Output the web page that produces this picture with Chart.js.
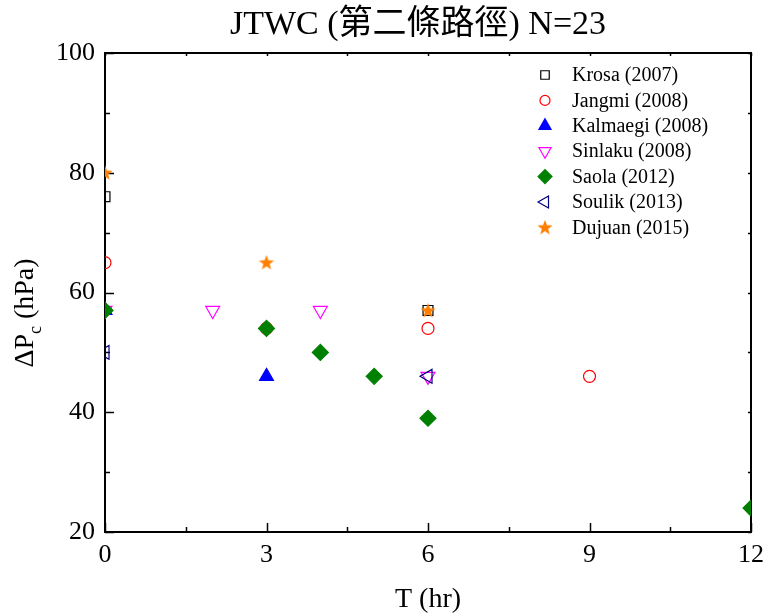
<!DOCTYPE html>
<html lang="zh-Hant">
<head>
<meta charset="UTF-8">
<title>JTWC N=23</title>
<script src="https://cdn.jsdelivr.net/npm/chart.js@4/dist/chart.umd.min.js"></script>
<style>
  body{margin:0;background:#fff;}
</style>
</head>
<body>
<canvas id="c" width="765" height="616"></canvas>
<script>
// data: T (hr) vs ΔPc (hPa)
const krosaT = [0, 6];            const krosaP = [76, 57];
const jangmiT = [0, 3, 6, 9];     const jangmiP = [65, 54, 54, 46];
const kalmaegiT = [0, 3];         const kalmaegiP = [57, 46];
const sinlakuT = [0, 2, 4, 6];    const sinlakuP = [57, 57, 57, 46];
const saolaT = [0, 3, 4, 5, 6, 12]; const saolaP = [57, 54, 50, 46, 39, 24];
const soulikT = [0, 6];           const soulikP = [50, 46];
const dujuanT = [0, 3, 6];        const dujuanP = [80, 65, 57];

const labels = ['Krosa (2007)', 'Jangmi (2008)', 'Kalmaegi (2008)', 'Sinlaku (2008)',
                'Saola (2012)', 'Soulik (2013)', 'Dujuan (2015)'];
const xTicks = [0, 3, 6, 9, 12];
const yTicks = [20, 40, 60, 80, 100];

const serif = '"Liberation Serif", "Noto Sans CJK TC", serif';

// filled five point star for Dujuan
const star = document.createElement('canvas');
star.width = 18; star.height = 18;
(function(){
  const s = star.getContext('2d');
  s.beginPath();
  for (let i = 0; i < 10; i++) {
    const r = i % 2 ? 3.3 : 8;
    const a = -Math.PI / 2 + i * Math.PI / 5;
    s.lineTo(9 + r * Math.cos(a), 9.5 + r * Math.sin(a));
  }
  s.closePath();
  s.fillStyle = '#ff8000';
  s.fill();
})();

const toPts = (t, p) => t.map((v, i) => ({x: v, y: p[i]}));

const sets = [
  {t: krosaT, p: krosaP, style: 'rect', rot: 0, r: 7, stroke: '#000000', fill: 'transparent'},
  {t: jangmiT, p: jangmiP, style: 'circle', rot: 0, r: 6, stroke: '#ff0000', fill: 'transparent'},
  {t: kalmaegiT, p: kalmaegiP, style: 'triangle', rot: 0, r: 8, stroke: '#0000ff', fill: '#0000ff'},
  {t: sinlakuT, p: sinlakuP, style: 'triangle', rot: 180, r: 8, stroke: '#ff00ff', fill: 'transparent'},
  {t: saolaT, p: saolaP, style: 'rectRot', rot: 0, r: 8, stroke: '#008000', fill: '#008000'},
  {t: soulikT, p: soulikP, style: 'triangle', rot: -90, r: 8, stroke: '#000080', fill: 'transparent'},
  {t: dujuanT, p: dujuanP, style: star, rot: 0, r: 8, stroke: '#ff8000', fill: '#ff8000'}
];

const datasets = sets.map((s, i) => ({
  label: labels[i],
  data: toPts(s.t, s.p),
  pointStyle: s.style,
  rotation: s.rot,
  pointRadius: s.r,
  pointHoverRadius: s.r,
  borderColor: s.stroke,
  backgroundColor: s.fill,
  borderWidth: 1.2,
  showLine: false,
  clip: 0,
  order: sets.length - i
}));

// frame, inward ticks, title, y label with subscript, legend
const decor = {
  id: 'decor',
  beforeDatasetsDraw(chart) {
    const ctx = chart.ctx, a = chart.chartArea;
    const xs = chart.scales.x, ys = chart.scales.y;
    ctx.save();
    ctx.strokeStyle = '#000';
    ctx.lineWidth = 1.5;
    for (let v = 0; v <= 12; v += 1.5) {
      const px = Math.round(xs.getPixelForValue(v)) + 0.5;
      const major = v % 3 === 0;
      ctx.beginPath();
      ctx.moveTo(px, a.bottom); ctx.lineTo(px, a.bottom - (major ? 9 : 5));
      ctx.moveTo(px, a.top); ctx.lineTo(px, a.top + 3);
      ctx.stroke();
    }
    for (let v = 20; v <= 100; v += 10) {
      const py = Math.round(ys.getPixelForValue(v)) + 0.5;
      const major = v % 20 === 0;
      ctx.beginPath();
      ctx.moveTo(a.left, py); ctx.lineTo(a.left + (major ? 9 : 5), py);
      ctx.moveTo(a.right, py); ctx.lineTo(a.right - 3, py);
      ctx.stroke();
    }
    ctx.lineWidth = 2;
    ctx.strokeRect(a.left, a.top, a.right - a.left, a.bottom - a.top);
    ctx.restore();
  },
  afterDraw(chart) {
    const ctx = chart.ctx;
    ctx.save();
    ctx.fillStyle = '#000';
    ctx.textBaseline = 'middle';
    ctx.textAlign = 'center';
    ctx.font = '34px ' + serif;
    ctx.fillText('JTWC (第二條路徑) N=23', 418, 25);

    // y axis title: ΔPc (hPa)
    ctx.save();
    ctx.translate(26, 313);
    ctx.rotate(-Math.PI / 2);
    ctx.textAlign = 'left';
    ctx.font = '28px ' + serif;
    const w1 = ctx.measureText('ΔP').width;
    const w3 = ctx.measureText(' (hPa)').width;
    ctx.font = '18px ' + serif;
    const w2 = ctx.measureText('c').width;
    let x0 = -(w1 + w2 + w3) / 2;
    ctx.font = '28px ' + serif;
    ctx.fillText('ΔP', x0, 0);
    ctx.font = '18px ' + serif;
    ctx.fillText('c', x0 + w1, 10);
    ctx.font = '28px ' + serif;
    ctx.fillText(' (hPa)', x0 + w1 + w2, 0);
    ctx.restore();

    // legend
    ctx.font = '20px ' + serif;
    ctx.textAlign = 'left';
    chart.data.datasets.forEach((ds, i) => {
      const y = 75 + i * 25.4;
      ctx.save();
      ctx.strokeStyle = ds.borderColor;
      ctx.fillStyle = ds.backgroundColor;
      ctx.lineWidth = 1.2;
      Chart.helpers.drawPoint(ctx, {pointStyle: ds.pointStyle, rotation: ds.rotation,
        radius: ds.pointRadius - 1, borderWidth: 1.2}, 545, y);
      ctx.restore();
      ctx.fillStyle = '#000';
      ctx.fillText(ds.label, 572, y + 1);
    });
    ctx.restore();
  }
};

new Chart(document.getElementById('c'), {
  type: 'scatter',
  data: {datasets},
  options: {
    responsive: false,
    animation: false,
    events: [],
    layout: {padding: {left: 0, top: 53, right: 14, bottom: 0}},
    plugins: {legend: {display: false}, title: {display: false}, tooltip: {enabled: false}},
    scales: {
      x: {
        type: 'linear', min: 0, max: 12,
        afterBuildTicks: s => { s.ticks = xTicks.map(v => ({value: v})); },
        afterFit: s => { s.height = 84; s.paddingLeft = 0; s.paddingRight = 0; },
        grid: {display: false, drawTicks: false},
        border: {display: false},
        ticks: {color: '#000', padding: 8, font: {family: serif, size: 26}},
        title: {display: true, text: 'T (hr)', color: '#000', padding: 0,
                font: {family: serif, size: 28}}
      },
      y: {
        type: 'linear', min: 20, max: 100,
        afterBuildTicks: s => { s.ticks = yTicks.map(v => ({value: v})); },
        afterFit: s => { s.width = 105; s.paddingTop = 0; s.paddingBottom = 0; },
        grid: {display: false, drawTicks: false},
        border: {display: false},
        ticks: {color: '#000', padding: 10, font: {family: serif, size: 26}}
      }
    }
  },
  plugins: [decor]
});
</script>
</body>
</html>
